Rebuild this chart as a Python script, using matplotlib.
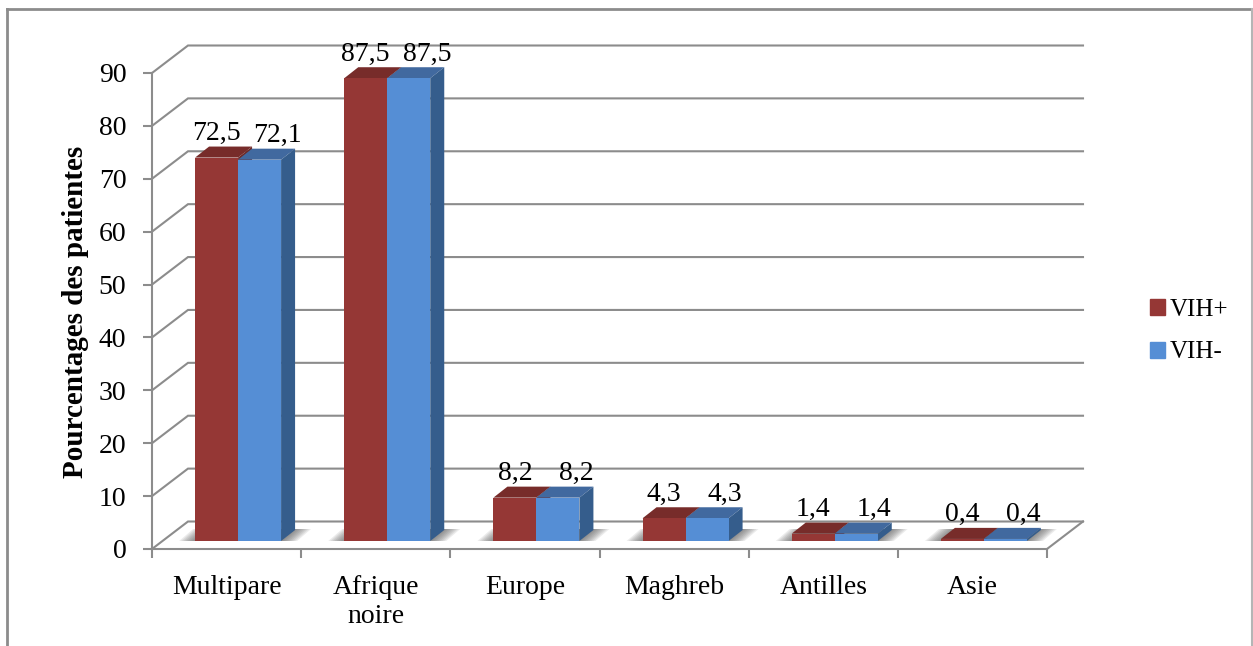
import matplotlib
matplotlib.use("Agg")
import matplotlib.pyplot as plt
from matplotlib.patches import Patch
from matplotlib.transforms import ScaledTranslation

categories = ["Multipare", "Afrique\nnoire", "Europe", "Maghreb", "Antilles", "Asie"]
vih_pos = [72.5, 87.5, 8.2, 4.3, 1.4, 0.4]
vih_neg = [72.1, 87.5, 8.2, 4.3, 1.4, 0.4]
labels_pos = ["72,5", "87,5", "8,2", "4,3", "1,4", "0,4"]
labels_neg = ["72,1", "87,5", "8,2", "4,3", "1,4", "0,4"]
y_ticks = list(range(0, 100, 10))

W, H = 1253, 646
L, R, T, B = 152, 1047, 73, 549
SERIF = "Liberation Serif"
GRID = "#8c8c8c"
FS = 20

fig = plt.figure(figsize=(W / 100, H / 100), dpi=100, facecolor="white")
ax = fig.add_axes([L / W, 1 - B / H, (R - L) / W, (B - T) / H])
ax.set_xlim(0, 6)
ax.set_ylim(0, 90)
ax.patch.set_alpha(0)

ux = 6 / (R - L)      # data units per pixel, horizontally
uy = 90 / (B - T)     # data units per pixel, vertically
wall_dx, wall_dy = 36 * ux, 27.5 * uy
bar_shift, bar_base = 11.5 * ux, 8 * uy
bar_w = 43 * ux
depth_dx, depth_dy = 14 * ux, 11 * uy

# walls
for v in y_ticks:
    ax.plot([0, wall_dx, 6 + wall_dx], [v, v + wall_dy, v + wall_dy],
            color=GRID, lw=1.5, clip_on=False, zorder=1, solid_joinstyle="miter")
ax.plot([6, 6 + wall_dx], [0, wall_dy], color=GRID, lw=1.5, clip_on=False, zorder=1)

# floor shadows
for i in range(len(categories)):
    c = i + 0.5 + bar_shift
    x0, x1 = c - bar_w, c + bar_w
    for k in range(8):
        grow = (16 - 2 * k) * ux
        ax.fill([x0 - grow, x1 + grow, x1 + depth_dx + grow, x0 + depth_dx - grow],
                [bar_base, bar_base, bar_base + 12 * uy, bar_base + 12 * uy],
                color="#505050", alpha=0.11, lw=0, zorder=1.5, clip_on=False)

series = [(vih_pos, -1, "#953735", "#772c2a", "#6e2a28"),
          (vih_neg, 0, "#558ed5", "#41699f", "#355d8c")]
for values, off, front, top, side in series:
    for i, v in enumerate(values):
        x0 = i + 0.5 + bar_shift + off * bar_w
        x1 = x0 + bar_w
        yt = bar_base + v
        ax.fill([x0, x1, x1 + depth_dx, x0 + depth_dx],
                [yt, yt, yt + depth_dy, yt + depth_dy], color=top, lw=0, zorder=3 + off * 0.5, clip_on=False)
        ax.fill([x1, x1 + depth_dx, x1 + depth_dx, x1],
                [bar_base, bar_base + depth_dy, yt + depth_dy, yt], color=side, lw=0, zorder=3 + off * 0.5, clip_on=False)
    ax.bar([i + 0.5 + bar_shift + (off + 0.5) * bar_w for i in range(len(values))],
           values, width=bar_w, bottom=bar_base, color=front, lw=0, zorder=4, clip_on=False)

# value labels
for i, (a, b, la, lb) in enumerate(zip(vih_pos, vih_neg, labels_pos, labels_neg)):
    c = i + 0.5 + bar_shift
    ax.text(c - bar_w / 2, bar_base + a + 24 * uy, la, ha="center", va="center",
            family=SERIF, fontsize=FS, color="black", zorder=6, clip_on=False)
    ax.text(c + bar_w / 2 + 18 * ux, bar_base + b + 24 * uy, lb, ha="center", va="center",
            family=SERIF, fontsize=FS, color="black", zorder=6, clip_on=False)

# axes
for s in ("top", "right"):
    ax.spines[s].set_visible(False)
for s in ("left", "bottom"):
    ax.spines[s].set_color(GRID)
    ax.spines[s].set_linewidth(1.5)
    ax.spines[s].set_zorder(5)
ax.set_yticks(y_ticks)
ax.set_yticklabels([str(v) for v in y_ticks], family=SERIF, fontsize=FS)
ax.set_xticks(range(7))
ax.set_xticklabels([])
ax.set_xticks([i + 0.5 for i in range(6)], minor=True)
ax.set_xticklabels(categories, minor=True, family=SERIF, fontsize=FS, linespacing=1.2, va="top")
ax.tick_params(axis="x", which="minor", length=0, pad=19)
ax.tick_params(axis="x", which="major", length=6.5, width=1.5, color=GRID)
ax.tick_params(axis="y", length=6.5, width=1.5, color=GRID, pad=12)
down = ScaledTranslation(0, -3 / 100, fig.dpi_scale_trans)
for t in ax.get_yticklabels():
    t.set_verticalalignment("center")
    t.set_transform(t.get_transform() + down)

fig.text(76 / W, 1 - 312 / H, "Pourcentages des patientes", rotation=90, ha="center", va="center",
         family=SERIF, fontsize=21, fontweight="bold")

handles = [Patch(color="#953735", label="VIH+"), Patch(color="#558ed5", label="VIH-")]
fig.legend(handles=handles, loc="center left", bbox_to_anchor=(1142 / W, 1 - 331 / H), frameon=False,
           prop={"family": SERIF, "size": 18}, handlelength=0.6, handleheight=0.6,
           handletextpad=0.22, labelspacing=0.84, borderpad=0.3, borderaxespad=0)

# outer frame
frame = dict(color="#8c8c8c", lw=2, transform=fig.transFigure)
fig.add_artist(plt.Line2D([7 / W, 7 / W], [0, 1 - 9 / H], **frame))
fig.add_artist(plt.Line2D([7 / W, 1252 / W], [1 - 9 / H, 1 - 9 / H], **frame))
fig.add_artist(plt.Line2D([1252 / W, 1252 / W], [0, 1 - 9 / H], color="#b5b5b5", lw=1.5, transform=fig.transFigure))

fig.savefig("out.png", dpi=100)
